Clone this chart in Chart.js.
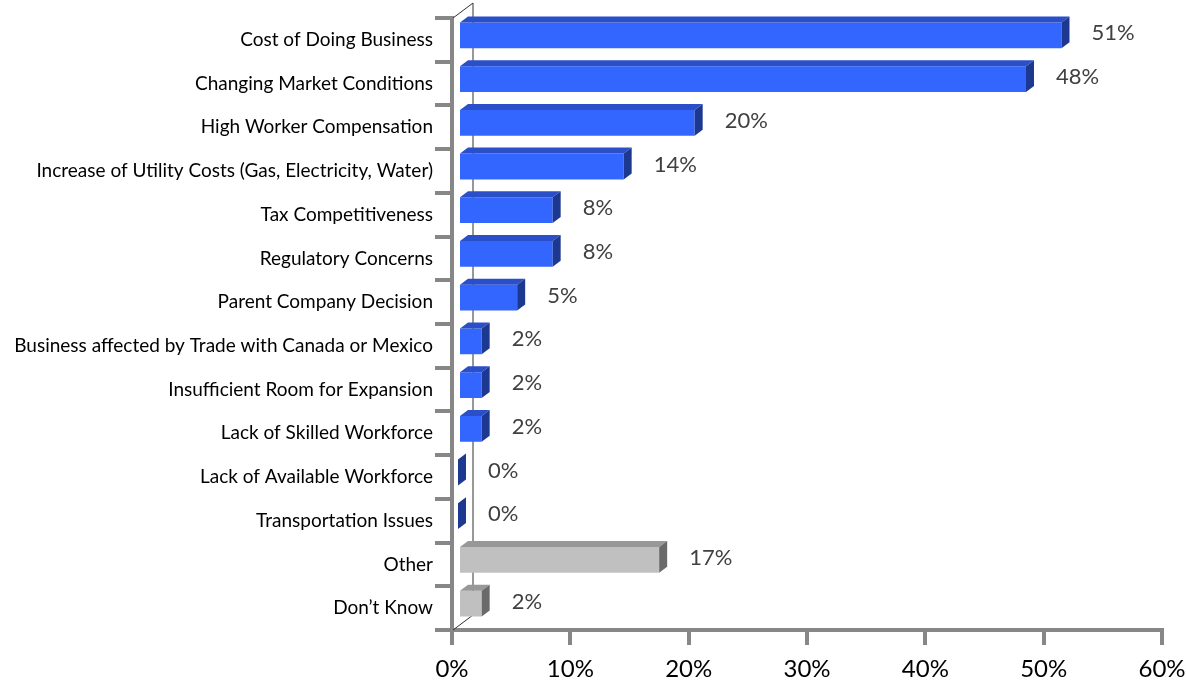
<!DOCTYPE html>
<html>
<head>
<meta charset="utf-8">
<script src="https://cdn.jsdelivr.net/npm/chart.js@4.4.1/dist/chart.umd.min.js"></script>
<style>
  html, body { margin: 0; padding: 0; background: #fff; }
  #wrap { width: 1186px; height: 683px; }
</style>
</head>
<body>
<div id="wrap"><canvas id="chartRazones"></canvas></div>
<script>
// ==============================
//  DATOS
// ==============================
const categorias = [
  "Cost of Doing Business",
  "Changing Market Conditions",
  "High Worker Compensation",
  "Increase of Utility Costs (Gas, Electricity, Water)",
  "Tax Competitiveness",
  "Regulatory Concerns",
  "Parent Company Decision",
  "Business affected by Trade with Canada or Mexico",
  "Insufficient Room for Expansion",
  "Lack of Skilled Workforce",
  "Lack of Available Workforce",
  "Transportation Issues",
  "Other",
  "Don\u2019t Know"
];
const porcentajes = [51, 48, 20, 14, 8, 8, 5, 2, 2, 2, 0, 0, 17, 2];
const ticksX = [0, 10, 20, 30, 40, 50, 60];
const grupoGris = ["Other", "Don\u2019t Know"];

// ==============================
//  ESTILO 3D
// ==============================
const AZUL = { frente: "#3366ff", arriba: "#2a4fc8", lado: "#1d3890" };
const GRIS = { frente: "#c0c0c0", arriba: "#989898", lado: "#6a6a6a" };
const PROF = { dx: 8, dy: 6 };        // profundidad de cada barra
const PARED = { dx: 21, dy: 15 };     // profundidad del plano del gráfico
const DESPL = { dx: 6, dy: -4.5 };    // barras en mitad de la profundidad
const GRIS_EJE = "#878787";
const FUENTE = "Lato, 'Noto Sans', sans-serif";

function paleta(i) {
  return grupoGris.includes(categorias[i]) ? GRIS : AZUL;
}

// Pared de fondo (línea fina) y caras superior / lateral de las barras
const barras3D = {
  id: "barras3D",
  beforeDatasetsDraw(chart) {
    const { ctx, chartArea: a } = chart;
    ctx.save();
    ctx.strokeStyle = "#303030";
    ctx.lineWidth = 1;
    ctx.beginPath();
    ctx.moveTo(a.left + 1, a.top);
    ctx.lineTo(a.left + PARED.dx, a.top - PARED.dy);
    ctx.lineTo(a.left + PARED.dx, a.bottom - PARED.dy);
    ctx.lineTo(a.left + 1, a.bottom);
    ctx.stroke();
    ctx.restore();
    ctx.save();
    ctx.translate(DESPL.dx, DESPL.dy);
  },
  afterDatasetsDraw(chart) {
    const { ctx } = chart;
    const meta = chart.getDatasetMeta(0);
    meta.data.forEach((bar, i) => {
      const p = bar.getProps(["x", "y", "base", "height"], true);
      const x0 = p.base, x1 = p.x;
      const yT = p.y - p.height / 2, yB = p.y + p.height / 2;
      const c = paleta(i);
      // cara superior
      if (x1 > x0) {
        ctx.fillStyle = c.arriba;
        ctx.beginPath();
        ctx.moveTo(x0, yT);
        ctx.lineTo(x0 + PROF.dx, yT - PROF.dy);
        ctx.lineTo(x1 + PROF.dx, yT - PROF.dy);
        ctx.lineTo(x1, yT);
        ctx.closePath();
        ctx.fill();
      }
      // cara lateral
      ctx.fillStyle = c.lado;
      ctx.beginPath();
      ctx.moveTo(x1, yT);
      ctx.lineTo(x1 + PROF.dx, yT - PROF.dy);
      ctx.lineTo(x1 + PROF.dx, yB - PROF.dy);
      ctx.lineTo(x1, yB);
      ctx.closePath();
      ctx.fill();
      // etiqueta de valor
      ctx.fillStyle = "#404040";
      ctx.font = "22px " + FUENTE;
      ctx.textAlign = "left";
      ctx.textBaseline = "middle";
      ctx.fillText(porcentajes[i] + "%", x1 + PROF.dx + 22, p.y - 2);
    });
    ctx.restore();
  }
};

// ==============================
//  GRÁFICO
// ==============================
const ctxRaz = document.getElementById("chartRazones").getContext("2d");
new Chart(ctxRaz, {
  type: "bar",
  data: {
    labels: categorias,
    datasets: [{
      data: porcentajes,
      backgroundColor: (c) => paleta(c.dataIndex).frente,
      borderWidth: 0,
      barPercentage: 0.59,
      categoryPercentage: 1
    }]
  },
  options: {
    indexAxis: "y",
    responsive: true,
    maintainAspectRatio: false,
    animation: false,
    layout: { padding: { top: 18, right: 24, left: 0, bottom: 0 } },
    plugins: { legend: { display: false }, tooltip: { enabled: false } },
    scales: {
      x: {
        min: 0,
        max: 60,
        afterBuildTicks: (s) => { s.ticks = ticksX.map(v => ({ value: v })); },
        afterFit: (s) => { s.height = 53; s.paddingLeft = 0; s.paddingRight = 0; },
        ticks: {
          callback: (v) => v + "%",
          color: "#000",
          font: { family: FUENTE, size: 24 },
          padding: 10,
          maxRotation: 0
        },
        grid: { drawOnChartArea: false, tickLength: 15, color: GRIS_EJE, lineWidth: 4 },
        border: { color: GRIS_EJE, width: 4 }
      },
      y: {
        afterFit: (s) => { s.width = 452; },
        ticks: {
          color: "#000",
          font: { family: FUENTE, size: 19 },
          padding: 2,
          autoSkip: false
        },
        grid: { drawOnChartArea: false, offset: true, tickLength: 17, color: GRIS_EJE, lineWidth: 4 },
        border: { color: GRIS_EJE, width: 4 }
      }
    }
  },
  plugins: [barras3D]
});
</script>
</body>
</html>
